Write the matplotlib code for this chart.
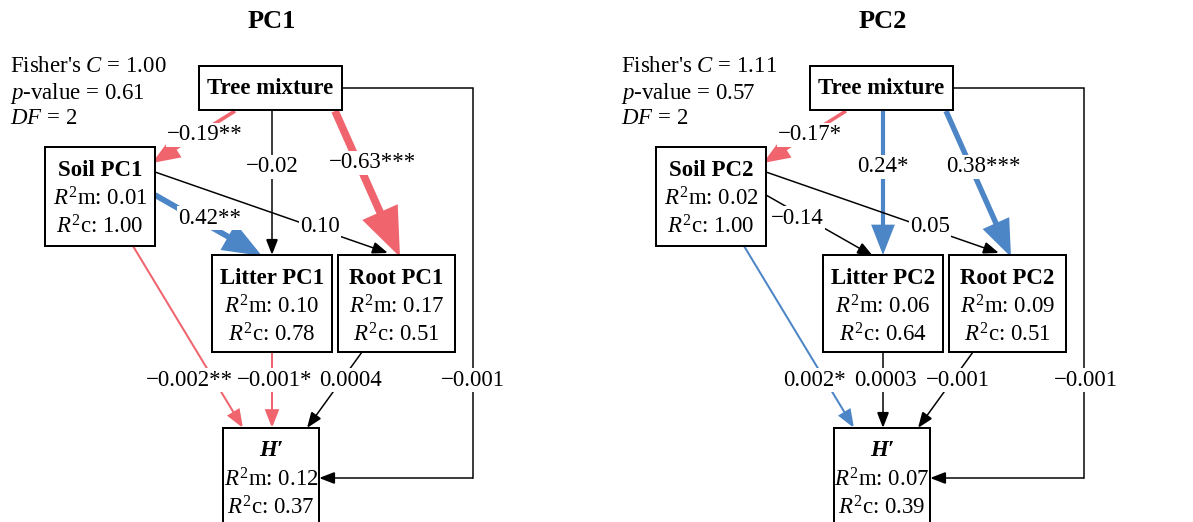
import matplotlib
matplotlib.use("Agg")
import matplotlib.pyplot as plt
from matplotlib.patches import Rectangle, FancyArrowPatch

plt.rcParams["font.family"] = ["Liberation Serif", "DejaVu Serif"]
plt.rcParams["mathtext.fontset"] = "custom"
plt.rcParams["mathtext.rm"] = "Liberation Serif"
plt.rcParams["mathtext.it"] = "Liberation Serif:italic"
plt.rcParams["mathtext.bf"] = "Liberation Serif:bold"

# ---- data ----
panel_titles = ["PC1", "PC2"]
fisher_c = ["1.00", "1.11"]
p_values = ["0.61", "0.57"]
dfs = ["2", "2"]

# nodes: soil, litter, root, H'
node_names = [["Soil PC1", "Litter PC1", "Root PC1", "H′"],
              ["Soil PC2", "Litter PC2", "Root PC2", "H′"]]
r2m = [["0.01", "0.10", "0.17", "0.12"], ["0.02", "0.06", "0.09", "0.07"]]
r2c = [["1.00", "0.78", "0.51", "0.37"], ["1.00", "0.64", "0.51", "0.39"]]

# edges: tree->soil, tree->litter, tree->root, soil->litter, soil->root,
#        soil->H, litter->H, root->H, tree->H
coefs = [["-0.19", "-0.02", "-0.63", "0.42", "0.10", "-0.002", "-0.001", "0.0004", "-0.001"],
         ["-0.17", "0.24", "0.38", "-0.14", "0.05", "0.002", "0.0003", "-0.001", "-0.001"]]
stars = [["**", "", "***", "**", "", "**", "*", "", ""],
         ["*", "*", "***", "", "", "*", "", "", ""]]

# ---- layout (pixel coords of the PC1 panel) ----
offsets = [0, 611]
title_xy = (272, 22)
stats_xy = (10, 67)
tree_box = (199, 66, 143, 44)
boxes = [(45, 147, 110, 99), (212, 255, 120, 97), (338, 255, 117, 97), (223, 428, 96, 110)]
edge_pts = [((235, 111), (152, 163)), ((272, 110), (272, 255)), ((335, 111), (400, 257)),
            ((155, 195), (262, 256)), ((155, 172), (388, 253)),
            ((133, 246), (243, 428)), ((272, 352), (272, 428)), ((362, 352), (307, 428))]
elbow_x, elbow_y = 473, 478
label_xy = [[(205, 135), (272, 167), (372, 163), (210, 218), (320, 227), (189, 380), (275, 380), (350, 380), (473, 380)],
            [(199, 135), (272, 167), (372, 167), (186, 218), (319, 227), (204, 380), (274, 380), (347, 380), (475, 380)]]

RED = "#F0646E"
BLUE = "#4D86C6"
PX = 0.72  # points per pixel at dpi 100

fig = plt.figure(figsize=(11.93, 5.22), dpi=100)
ax = fig.add_axes([0, 0, 1, 1])
ax.set_xlim(0, 1193)
ax.set_ylim(522, 0)
ax.axis("off")


def edge_style(c, s):
    v = float(c)
    if not s:
        return "black", 1.5
    return (BLUE if v > 0 else RED), 2 + 9 * abs(v)


def arrow(p0, p1, color, w):
    hl = (8 + 3.5 * w) * PX
    hw = (6 + 2.8 * w) / 2 * PX
    a = FancyArrowPatch(p0, p1, arrowstyle=f"-|>,head_length={hl},head_width={hw}",
                        mutation_scale=1, shrinkA=0, shrinkB=0, color=color,
                        lw=w * PX, joinstyle="miter", capstyle="butt", zorder=2)
    ax.add_patch(a)


for k in range(2):
    dx = offsets[k]
    ax.text(title_xy[0] + dx, title_xy[1], panel_titles[k], ha="center", va="center",
            fontsize=19, fontweight="bold")
    stats = [f"Fisher's $C$ = {fisher_c[k]}", f"$p$-value = {p_values[k]}", f"$DF$ = {dfs[k]}"]
    for i, s in enumerate(stats):
        ax.text(stats_xy[0] + dx, stats_xy[1] + 26 * i, s, ha="left", va="center", fontsize=16.5)

    # boxes
    x, y, w, h = tree_box
    ax.add_patch(Rectangle((x + dx, y), w, h, fill=True, fc="white", ec="black", lw=2 * PX, zorder=3))
    ax.text(x + dx + w / 2, y + h / 2 + 1, "Tree mixture", ha="center", va="center",
            fontsize=16.5, fontweight="bold", zorder=4)
    for j, (x, y, w, h) in enumerate(boxes):
        ax.add_patch(Rectangle((x + dx, y), w, h, fill=True, fc="white", ec="black", lw=2 * PX, zorder=3))
        cx = x + dx + w / 2
        style = "italic" if j == 3 else "normal"
        ax.text(cx, y + 23, node_names[k][j], ha="center", va="center", fontsize=16.5,
                fontweight="bold", fontstyle=style, zorder=4)
        ax.text(cx, y + 52, f"$R^2$m: {r2m[k][j]}", ha="center", va="center", fontsize=16.5, zorder=4)
        ax.text(cx, y + 80, f"$R^2$c: {r2c[k][j]}", ha="center", va="center", fontsize=16.5, zorder=4)

    # edges
    for e in range(9):
        color, w = edge_style(coefs[k][e], stars[k][e])
        if e < 8:
            (x0, y0), (x1, y1) = edge_pts[e]
            arrow((x0 + dx, y0), (x1 + dx, y1), color, w)
        else:
            tx = tree_box[0] + tree_box[2] + dx
            ty = tree_box[1] + tree_box[3] / 2
            ex = elbow_x + dx
            ax.plot([tx, ex, ex], [ty, ty, elbow_y], color=color, lw=w * PX,
                    solid_joinstyle="miter", zorder=2)
            hx = boxes[3][0] + boxes[3][2] + dx
            arrow((ex, elbow_y), (hx, elbow_y), color, w)
        lab = coefs[k][e].replace("-", "−") + stars[k][e]
        lx, ly = label_xy[k][e]
        ax.text(lx + dx, ly, lab, ha="center", va="center", fontsize=16.5, zorder=5,
                bbox=dict(boxstyle="square,pad=0.05", fc="white", ec="none"))

fig.savefig("out.png", dpi=100)
